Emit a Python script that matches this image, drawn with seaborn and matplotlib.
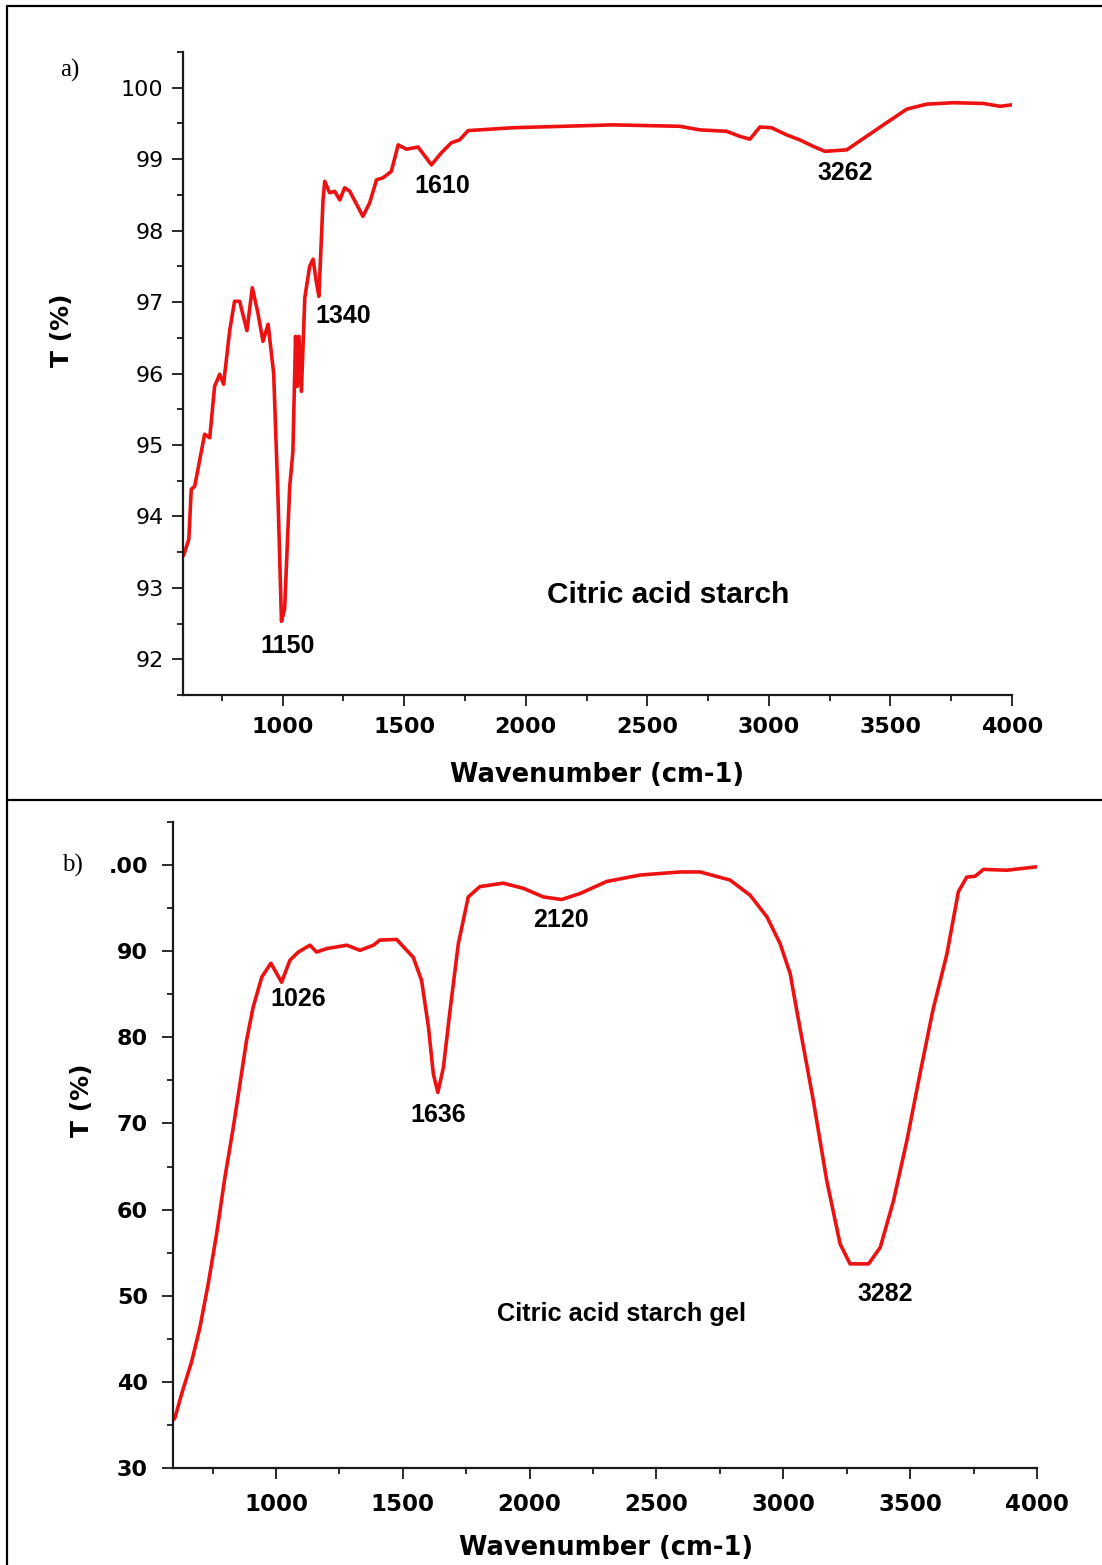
import pandas as pd
import seaborn as sns
import matplotlib.pyplot as plt
from matplotlib.lines import Line2D
from matplotlib.ticker import MultipleLocator, FixedLocator

# a) citric acid starch spectrum (read off the figure)
wn_a = [592, 614, 624, 638, 665, 679, 700, 720, 741, 757, 782, 802, 823, 853,
        875, 898, 919, 940, 963, 981, 995, 1008, 1029, 1042, 1053, 1060, 1067,
        1077, 1091, 1111, 1125, 1139, 1149, 1166, 1173, 1193, 1214, 1235, 1255,
        1276, 1330, 1358, 1386, 1413, 1447, 1475, 1509, 1557, 1612, 1653, 1694,
        1728, 1763, 1948, 2359, 2634, 2716, 2826, 2880, 2922, 2963, 3011, 3073,
        3127, 3182, 3230, 3320, 3402, 3484, 3567, 3649, 3758, 3882, 3951, 3998]
t_a = [93.45, 93.68, 94.38, 94.42, 94.9, 95.15, 95.1, 95.82, 95.99, 95.85, 96.6,
       97.01, 97.01, 96.6, 97.2, 96.85, 96.45, 96.69, 96.0, 94.24, 92.53, 92.7,
       94.42, 94.9, 96.52, 95.82, 96.52, 95.75, 97.06, 97.5, 97.6, 97.27, 97.08,
       98.43, 98.69, 98.53, 98.55, 98.43, 98.6, 98.55, 98.2, 98.39, 98.71, 98.74,
       98.83, 99.2, 99.14, 99.17, 98.92, 99.09, 99.23, 99.27, 99.4, 99.44, 99.48,
       99.46, 99.41, 99.39, 99.32, 99.28, 99.45, 99.44, 99.34, 99.27, 99.18,
       99.11, 99.13, 99.32, 99.51, 99.7, 99.77, 99.79, 99.78, 99.74, 99.76]

# b) citric acid starch gel spectrum
wn_b = [596, 602, 628, 668, 700, 733, 766, 799, 832, 858, 884, 910, 944, 980,
        1022, 1055, 1088, 1134, 1160, 1200, 1279, 1331, 1384, 1410, 1476, 1509,
        1541, 1574, 1601, 1620, 1638, 1660, 1686, 1719, 1758, 1804, 1896, 1975,
        2054, 2126, 2199, 2304, 2435, 2593, 2672, 2790, 2869, 2935, 2987, 3027,
        3053, 3118, 3171, 3224, 3263, 3336, 3382, 3434, 3487, 3539, 3590, 3645,
        3690, 3723, 3756, 3789, 3881, 3999]
t_b = [35.6, 35.85, 38.6, 42.4, 46.3, 51.4, 57.2, 63.8, 69.6, 74.6, 79.65, 83.5,
       87.0, 88.6, 86.4, 88.95, 89.9, 90.7, 89.9, 90.3, 90.7, 90.1, 90.7, 91.3,
       91.36, 90.3, 89.3, 86.6, 81.2, 75.8, 73.6, 76.5, 83.1, 90.9, 96.3, 97.5,
       97.9, 97.3, 96.3, 96.0, 96.7, 98.1, 98.84, 99.2, 99.2, 98.26, 96.5, 94.0,
       90.9, 87.4, 83.1, 72.7, 63.4, 56.0, 53.7, 53.7, 55.6, 61.0, 68.0, 75.8,
       83.2, 89.7, 96.9, 98.6, 98.7, 99.5, 99.4, 99.8]

peaks_a = ["1150", "1340", "1610", "3262"]
peaks_b = ["1026", "1636", "2120", "3282"]

df_a = pd.DataFrame({"wn": wn_a, "T": t_a})
df_b = pd.DataFrame({"wn": wn_b, "T": t_b})

sns.set_style("ticks", {"text.color": "black", "axes.labelcolor": "black",
                        "xtick.color": "black", "ytick.color": "black",
                        "axes.edgecolor": "black"})
plt.rcParams["font.family"] = ["DejaVu Sans"]

fig = plt.figure(figsize=(11.02, 15.65), dpi=100)
W, H = 1102, 1565


def px_axes(l, t, r, b):
    return fig.add_axes([l / W, 1 - b / H, (r - l) / W, (b - t) / H])


ax1 = px_axes(183, 52, 1012, 695)
ax2 = px_axes(173, 822, 1037, 1468)

sns.lineplot(data=df_a, x="wn", y="T", ax=ax1, color="#ee1111", linewidth=2.6)
sns.lineplot(data=df_b, x="wn", y="T", ax=ax2, color="#ee1111", linewidth=2.6)
for ax in (ax1, ax2):
    for ln in ax.lines:
        ln.set_solid_joinstyle("round")
        ln.set_solid_capstyle("round")

ax1.set_xlim(590, 4000)
ax1.set_ylim(91.5, 100.5)
ax2.set_xlim(594, 4000)
ax2.set_ylim(30, 105)

for ax in (ax1, ax2):
    sns.despine(ax=ax)
    ax.spines["left"].set_linewidth(1.6)
    ax.spines["bottom"].set_linewidth(1.6)
    ax.spines["left"].set_color("#1a1a1a")
    ax.spines["bottom"].set_color("#1a1a1a")
    ax.xaxis.set_major_locator(FixedLocator([1000, 1500, 2000, 2500, 3000, 3500, 4000]))
    ax.xaxis.set_minor_locator(FixedLocator([750, 1250, 1750, 2250, 2750, 3250, 3750]))
    ax.tick_params(which="major", length=8, width=1.3, color="#1a1a1a")
    ax.tick_params(which="minor", length=4, width=1.3, color="#1a1a1a")
    ax.set_xlabel("Wavenumber (cm-1)", fontsize=18.5, fontweight="bold")
    ax.set_ylabel("T (%)", fontsize=18, fontweight="bold")
    ax.xaxis.label.set_va("center")
    ax.yaxis.label.set_va("center")

# panel a ticks
ax1.yaxis.set_major_locator(MultipleLocator(1))
ax1.yaxis.set_minor_locator(MultipleLocator(0.5))
ax1.tick_params(axis="y", labelsize=16, pad=6)
ax1.tick_params(axis="x", labelsize=16, pad=8)
for lb in ax1.get_xticklabels():
    lb.set_fontweight("bold")
ax1.xaxis.set_label_coords(0.5, -0.124)
ax1.yaxis.set_label_coords(-0.146, 0.568)

# panel b ticks
yt = [30, 40, 50, 60, 70, 80, 90, 100]
ax2.yaxis.set_major_locator(FixedLocator(yt))
ax2.set_yticklabels([str(v) for v in yt[:-1]] + [".00"])
ax2.yaxis.set_minor_locator(MultipleLocator(5))
ax2.tick_params(axis="y", labelsize=16, pad=10)
ax2.tick_params(axis="x", labelsize=16.5, pad=10)
for lb in ax2.get_xticklabels() + ax2.get_yticklabels():
    lb.set_fontweight("bold")
ax2.xaxis.set_label_coords(0.501, -0.124)
ax2.yaxis.set_label_coords(-0.105, 0.57)

# peak labels
lab_font = dict(family=["Liberation Sans", "DejaVu Sans"], fontweight="bold",
                ha="center", va="center", color="black")
pos_a = [(1020, 92.18), (1247, 96.81), (1658, 98.62), (3313, 98.80)]
for s, (x, y) in zip(peaks_a, pos_a):
    ax1.text(x, y, s, fontsize=18, **lab_font)
ax1.text(2584, 92.9, "Citric acid starch", fontsize=21.5, **lab_font)

pos_b = [(1087, 84.4), (1639, 71.0), (2124, 93.6), (3401, 50.2)]
for s, (x, y) in zip(peaks_b, pos_b):
    ax2.text(x, y, s, fontsize=18, **lab_font)
ax2.text(2364, 47.9, "Citric acid starch gel", fontsize=18.3, **lab_font)

# panel letters
fig.text(70 / W, 1 - 70 / H, "a)", fontsize=18, family=["Liberation Serif"],
         ha="center", va="center", color="black")
fig.text(72 / W, 1 - 865 / H, "b)", fontsize=18, family=["Liberation Serif"],
         ha="center", va="center", color="black")

# panel frames
for xs, ys in [((7 / W, 1.0), (1 - 6 / H, 1 - 6 / H)),
               ((7 / W, 1.0), (1 - 800 / H, 1 - 800 / H)),
               ((7 / W, 7 / W), (1 - 6 / H, 0.0))]:
    fig.add_artist(Line2D(xs, ys, color="black", linewidth=1.6,
                          transform=fig.transFigure))

fig.savefig("out.png", dpi=100, facecolor="white")
